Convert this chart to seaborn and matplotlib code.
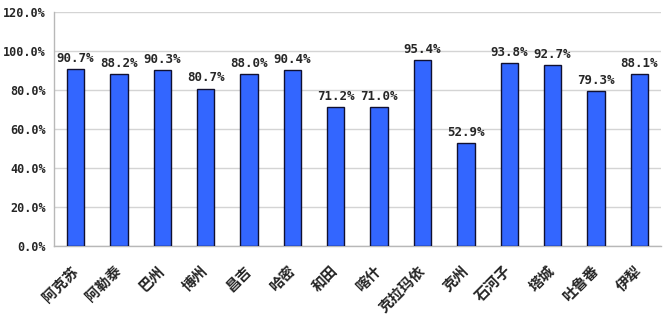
import pandas as pd
import seaborn as sns
import matplotlib.pyplot as plt
from matplotlib.ticker import FixedLocator, PercentFormatter
from matplotlib.transforms import ScaledTranslation

# Data
regions = ["阿克苏", "阿勒泰", "巴州", "博州", "昌吉", "哈密", "和田",
           "喀什", "克拉玛依", "克州", "石河子", "塔城", "吐鲁番", "伊犁"]
rates = [90.7, 88.2, 90.3, 80.7, 88.0, 90.4, 71.2,
         71.0, 95.4, 52.9, 93.8, 92.7, 79.3, 88.1]

df = pd.DataFrame({"region": regions, "rate": rates})

sns.set_style("white")
plt.rcParams['font.family'] = ['Noto Sans CJK SC', 'DejaVu Sans']
mono = ['DejaVu Sans Mono']

fig = plt.figure(figsize=(6.65, 3.16), dpi=100)
ax = fig.add_axes([0.081, 0.222, 0.913, 0.740])

sns.barplot(data=df, x="region", y="rate", color="#3366FF", saturation=1,
            width=0.4, edgecolor="#101030", linewidth=1.0, ax=ax, zorder=3)

ax.set_ylim(0, 120)
ax.set_xlim(-0.5, len(regions) - 0.5)
ax.set_yticks(range(0, 121, 20))
ax.yaxis.set_major_formatter(PercentFormatter(decimals=1))
ax.yaxis.grid(True, color="#d4d4d4", linewidth=1.0, zorder=0)
ax.set_xlabel("")
ax.set_ylabel("")

# value labels
ax.bar_label(ax.containers[0], fmt="%.1f%%", padding=3, fontsize=9,
             family=mono, fontweight="bold")

# spines
for s in ["top", "right"]:
    ax.spines[s].set_visible(False)
for s in ["left", "bottom"]:
    ax.spines[s].set_color("#b8b8b8")
    ax.spines[s].set_linewidth(1.0)

# tick labels
ax.tick_params(axis="y", length=0, pad=6)
ax.tick_params(axis="x", which="major", length=0, pad=12, labelsize=10.5)
plt.setp(ax.get_xticklabels(), rotation=45, ha="right", rotation_mode="anchor",
         fontweight="bold")
shift = ScaledTranslation(-6 / 100, 0, fig.dpi_scale_trans)
for lab in ax.get_xticklabels():
    lab.set_transform(lab.get_transform() + shift)
plt.setp(ax.get_yticklabels(), family=mono, fontsize=8.5, fontweight="bold")

# small category separator ticks on the x axis
ax.xaxis.set_minor_locator(FixedLocator([i - 0.5 for i in range(len(regions) + 1)]))
ax.tick_params(axis="x", which="minor", direction="in", length=4,
               color="#b8b8b8", width=1.0)

fig.savefig("out.png", dpi=100)
